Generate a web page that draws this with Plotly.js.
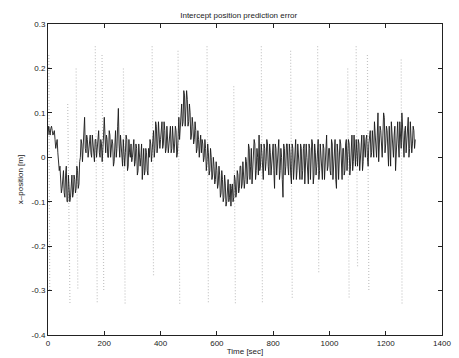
<!DOCTYPE html>
<html><head><meta charset="utf-8">
<script src="https://cdn.plot.ly/plotly-3.0.1.min.js"></script>
<style>body{margin:0;background:#fff}#c{width:459px;height:358px}</style>
</head><body><div id="c"></div>
<script>
// Main prediction error trace, sampled every 5 s from 0 to 1305 s
const timeStart = 0, timeStep = 5;
const errorValues = [
 0.05,0.06,0.065,0.06,0.055,0.04,0.03,0.01,-0.03,-0.06,
 -0.07,-0.03,-0.09,-0.02,-0.1,-0.06,-0.09,-0.04,-0.08,-0.05,
 -0.07,-0.03,-0.06,0.0,0.03,0.02,0.09,0.01,0.04,0.02,
 0.05,0.0,0.03,-0.01,0.04,0.02,0.06,0.0,0.03,0.01,
 0.09,0.01,0.04,0.0,0.05,0.02,0.03,-0.01,0.06,0.02,
 0.11,0.0,0.03,-0.02,0.02,0.01,0.04,-0.02,0.01,0.03,
 0.0,0.04,-0.01,0.02,-0.03,0.01,0.0,-0.05,0.02,-0.03,
 0.01,-0.04,0.0,0.03,0.01,0.06,0.02,0.07,0.03,0.06,
 0.04,0.08,0.03,0.06,0.02,0.05,0.03,0.07,0.02,0.05,
 0.03,0.06,0.01,0.09,0.06,0.12,0.08,0.14,0.1,0.13,
 0.08,0.1,0.05,0.07,0.04,0.06,0.02,0.04,0.03,0.01,
 0.03,0.0,0.02,-0.01,0.01,-0.03,0.0,-0.04,-0.02,-0.05,
 -0.03,-0.06,-0.04,-0.08,-0.05,-0.09,-0.06,-0.1,-0.05,-0.09,
 -0.11,-0.06,-0.09,-0.05,-0.08,-0.04,-0.07,-0.02,-0.06,-0.03,
 -0.05,-0.01,-0.04,0.02,-0.02,-0.06,-0.01,0.03,-0.03,0.0,
 0.05,-0.02,0.01,-0.05,0.02,-0.01,0.03,-0.04,0.01,-0.02,
 0.03,-0.07,0.02,-0.01,0.04,-0.03,0.0,-0.09,0.02,-0.02,
 0.03,-0.04,0.01,-0.06,0.02,-0.02,0.04,-0.03,0.01,-0.05,
 0.02,-0.03,0.03,-0.02,0.0,-0.06,0.02,-0.01,0.03,-0.04,
 0.01,-0.02,0.04,-0.03,0.0,-0.05,0.02,0.0,0.05,-0.02,
 0.02,-0.04,0.03,-0.01,0.04,-0.07,0.01,-0.02,0.03,-0.05,
 0.02,-0.03,0.04,0.0,0.03,-0.02,0.05,-0.01,0.02,0.04,
 -0.02,0.03,0.01,0.05,-0.01,0.02,0.04,0.0,0.03,0.06,
 0.01,0.04,0.08,0.02,0.05,-0.01,0.07,0.02,0.05,0.09,
 0.03,0.06,-0.02,0.04,0.08,0.02,0.05,-0.03,0.06,0.03,
 0.08,0.02,0.05,0.0,0.07,0.03,0.09,0.02,0.05,0.03,
 0.06,0.04
];
// Values read halfway between the samples above (at 2.5 s, 7.5 s, ...)
const errorValuesHalf = [
 0.07,0.05,0.07,0.05,0.06,0.02,0.04,-0.02,-0.02,-0.08,
 -0.05,-0.08,-0.04,-0.1,-0.04,-0.1,-0.05,-0.09,-0.04,-0.08,
 -0.02,-0.07,-0.01,0.04,-0.01,0.06,0.02,0.05,0.0,0.05,
 0.01,0.05,-0.01,0.04,0.0,0.05,0.01,0.04,-0.01,0.05,
 0.02,0.05,0.0,0.06,0.0,0.04,-0.02,0.04,0.0,0.07,
 0.03,0.05,-0.01,0.04,-0.02,0.05,-0.03,0.04,0.0,-0.01,
 0.03,-0.02,0.03,-0.04,0.03,-0.02,0.03,-0.01,-0.04,0.02,
 -0.03,0.02,0.04,-0.01,0.05,0.0,0.08,0.01,0.08,0.02,
 0.07,0.02,0.08,0.01,0.07,0.01,0.06,0.01,0.07,0.01,
 0.07,0.0,0.05,0.04,0.1,0.07,0.15,0.07,0.15,0.07,
 0.12,0.04,0.09,0.03,0.08,0.01,0.06,0.0,0.05,0.04,
 -0.01,0.04,-0.03,0.03,-0.04,0.02,-0.05,0.0,-0.06,-0.01,
 -0.07,-0.02,-0.09,-0.03,-0.1,-0.04,-0.11,-0.06,-0.1,-0.06,
 -0.07,-0.1,-0.04,-0.09,-0.03,-0.08,-0.02,-0.07,-0.01,-0.07,
 0.0,-0.06,0.03,-0.05,0.02,-0.03,0.04,-0.05,0.02,-0.04,
 -0.03,0.03,-0.05,0.03,-0.03,0.04,-0.02,0.03,-0.04,0.02,
 -0.03,0.03,-0.04,0.03,-0.05,0.02,-0.05,0.03,-0.04,0.03,
 -0.02,0.03,-0.04,0.03,-0.05,0.03,-0.05,0.03,-0.03,0.03,
 -0.05,0.02,-0.06,0.03,-0.04,0.03,-0.05,0.04,-0.06,0.03,
 -0.04,0.03,-0.05,0.03,-0.04,0.03,-0.05,0.04,-0.03,0.02,
 -0.03,0.04,-0.05,0.03,-0.05,0.03,-0.05,0.04,-0.04,0.02,
 -0.04,0.03,-0.03,0.04,-0.04,0.05,-0.03,0.05,-0.02,0.0,
 0.04,-0.03,0.05,-0.03,0.05,0.0,0.05,-0.02,0.06,0.0,
 0.06,0.0,0.05,0.0,0.1,0.02,0.06,0.0,0.1,0.01,
 0.07,0.01,0.07,-0.02,0.06,0.0,0.07,0.02,0.08,0.0,
 0.05,0.1,0.02,0.06,0.01,0.06,0.0,0.08,0.01,0.07,
 0.02
];
// Predicted-intercept transients (light dotted columns)
const predStartTime = [3, 70, 100, 168, 192, 268, 370, 462, 565, 660, 758, 862, 958, 1065, 1095, 1135, 1255];
const predEndTime   = [6, 78, 106, 175, 198, 274, 375, 468, 570, 666, 762, 868, 962, 1070, 1100, 1140, 1258];
const predTop       = [0.23, 0.12, 0.2, 0.25, 0.23, 0.2, 0.25, 0.24, 0.25, 0.16, 0.25, 0.24, 0.25, 0.2, 0.25, 0.23, 0.22];
const predBottom    = [-0.3, -0.33, -0.3, -0.33, -0.3, -0.33, -0.27, -0.33, -0.33, -0.33, -0.33, -0.32, -0.26, -0.32, -0.25, -0.3, -0.33];

const xTicks = [0,200,400,600,800,1000,1200,1400];
const yTicks = [-0.4,-0.3,-0.2,-0.1,0,0.1,0.2,0.3];
const yTickText = ['-0.4','-0.3','-0.2','-0.1','0','0.1','0.2','0.3'];

const traces = [];
for (let i = 0; i < predStartTime.length; i++) {
  traces.push({
    x: [predStartTime[i], predEndTime[i]],
    y: [predTop[i], predBottom[i]],
    mode: 'lines', type: 'scatter', hoverinfo: 'skip',
    line: {color: '#c4c4c4', width: 1.2, dash: '1px,2px'}
  });
}
const tx = [], ty = [];
for (let i = 0; i < errorValues.length; i++) {
  tx.push(timeStart + i * timeStep); ty.push(errorValues[i]);
  if (i < errorValuesHalf.length) {
    tx.push(timeStart + (i + 0.5) * timeStep); ty.push(errorValuesHalf[i]);
  }
}
traces.push({
  x: tx, y: ty, mode: 'lines', type: 'scatter',
  line: {color: '#1a1a1a', width: 0.9}
});

const font = {family: 'Liberation Sans, Arial, sans-serif', size: 8, color: '#222'};
const layout = {
  width: 459, height: 358,
  margin: {l: 48, r: 17, t: 24, b: 23},
  paper_bgcolor: '#fff', plot_bgcolor: '#fff',
  showlegend: false, font: font,
  title: {text: 'Intercept position prediction error', font: {size: 8, family: font.family, color: '#222'}, x: 0.52, xanchor: 'center', y: 0.958, yanchor: 'middle'},
  xaxis: {
    range: [0, 1400], tickvals: xTicks, ticktext: xTicks.map(String),
    ticks: 'inside', ticklen: 4, tickcolor: '#222', mirror: 'ticks',
    showline: true, linecolor: '#222', linewidth: 1, showgrid: false, zeroline: false,
    title: {text: 'Time [sec]', font: font, standoff: 1},
    tickfont: font
  },
  yaxis: {
    range: [-0.4, 0.3], tickvals: yTicks, ticktext: yTickText,
    ticks: 'inside', ticklen: 4, tickcolor: '#222', mirror: 'ticks',
    showline: true, linecolor: '#222', linewidth: 1, showgrid: false, zeroline: false,
    title: {text: 'x\u2013position [m]', font: font, standoff: 6},
    tickfont: font
  }
};
Plotly.newPlot('c', traces, layout, {staticPlot: true});
</script></body></html>
